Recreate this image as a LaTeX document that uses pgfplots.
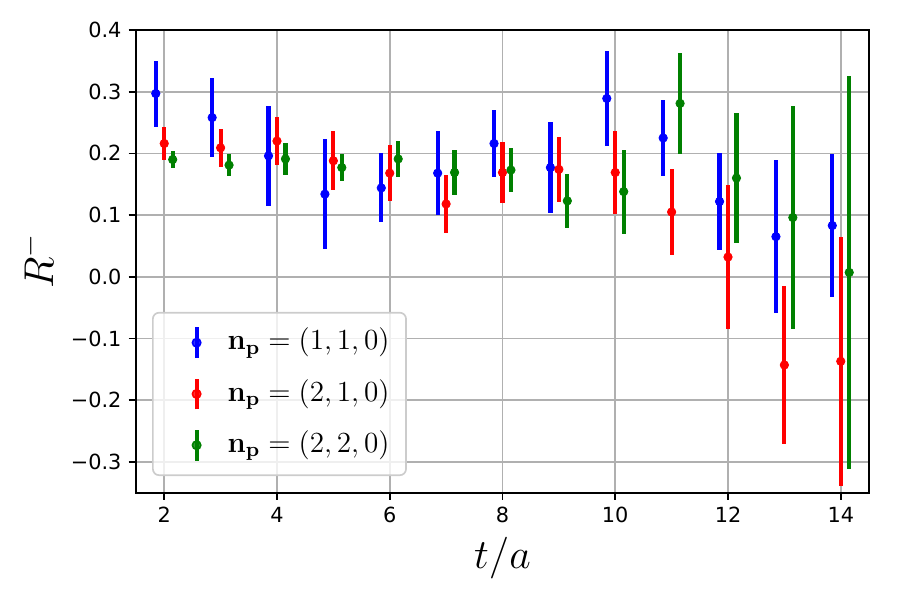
\RequirePackage{fix-cm}
\documentclass[border=0pt]{standalone}
\usepackage[no-math]{fontspec}
\setmainfont{DejaVu Sans}
\usepackage{pgfplots}
\pgfplotsset{compat=1.18}
\usepackage{pgfplotstable}
\definecolor{mgreen}{RGB}{0,128,0}
\definecolor{gridgray}{RGB}{176,176,176}

\pgfplotstableread{
x y e
1.85 0.297 0.0535
2.85 0.258 0.0635
3.85 0.196 0.0805
4.85 0.134 0.0895
5.85 0.144 0.056
6.85 0.168 0.0675
7.85 0.216 0.054
8.85 0.177 0.074
9.85 0.289 0.0775
10.85 0.225 0.0615
11.85 0.122 0.078
12.85 0.065 0.124
13.85 0.083 0.1165
}\blue

\pgfplotstableread{
x y e
2 0.216 0.026
3 0.209 0.0305
4 0.220 0.0385
5 0.188 0.0475
6 0.168 0.045
7 0.118 0.047
8 0.169 0.050
9 0.174 0.052
10 0.169 0.0675
11 0.105 0.069
12 0.032 0.117
13 -0.143 0.128
14 -0.137 0.202
}\red

\pgfplotstableread{
x y e
2.15 0.190 0.014
3.15 0.181 0.0175
4.15 0.191 0.026
5.15 0.177 0.022
6.15 0.191 0.029
7.15 0.169 0.037
8.15 0.173 0.0355
9.15 0.123 0.044
10.15 0.138 0.068
11.15 0.281 0.0815
12.15 0.160 0.105
13.15 0.096 0.181
14.15 0.007 0.319
}\green

\begin{document}
\begin{tikzpicture}
\begin{axis}[
  name=ax,
  scale only axis,
  width=351.8pt, height=222.1pt,
  xmin=1.5, xmax=14.5,
  ymin=-0.35, ymax=0.4,
  xtick={2,4,6,8,10,12,14},
  ytick={-0.3,-0.2,-0.1,0,0.1,0.2,0.3,0.4},
  yticklabels={−0.3,−0.2,−0.1,0.0,0.1,0.2,0.3,0.4},
  /pgf/number format/assume math mode=true,
  ticklabel style={font=\fontsize{10}{12}\selectfont},
  tick pos=left,
  tick align=outside,
  major tick length=3.5pt,
  tick style={black, line width=0.8pt},
  axis line style={line width=0.8pt},
  grid=major,
  major grid style={gridgray, line width=0.8pt},
  xlabel={$t/a$},
  ylabel={$R^-$},
  xlabel style={font=\fontsize{20}{24}\selectfont, at={(axis description cs:0.5,-0.142)}, anchor=center},
  ylabel style={font=\fontsize{20}{24}\selectfont, at={(axis description cs:-0.135,0.5)}, anchor=center},
  legend cell align=left,
  legend style={
    at={(0.0218,0.036)}, anchor=south west,
    draw=black!20, line width=0.8pt, fill=white, fill opacity=0.8, text opacity=1,
    rounded corners=3pt,
    font=\fontsize{14}{17}\selectfont,
    inner xsep=8pt, inner ysep=6pt,
    row sep=7.8pt, column sep=1.9pt,
    nodes={inner sep=0pt, text height=10.5pt, text depth=3.5pt},
  },
  legend image code/.code={
    \path[draw=none, fill=none] (0pt,0pt) -- (26pt,0pt);
    \draw[line width=2pt] (13pt,-7.4pt) -- (13pt,7.4pt);
    \fill (13pt,0pt) circle (2pt);
  },
]
\addplot[blue, only marks, mark=*, mark size=2pt,
  error bars/.cd, y dir=both, y explicit, error mark=none,
  error bar style={line width=2pt, blue}]
  table[x=x, y=y, y error=e] {\blue};
\addlegendentry{$\mathbf{n}_{\mathbf{p}} = (1,1,0)$}
\addplot[red, only marks, mark=*, mark size=2pt,
  error bars/.cd, y dir=both, y explicit, error mark=none,
  error bar style={line width=2pt, red}]
  table[x=x, y=y, y error=e] {\red};
\addlegendentry{$\mathbf{n}_{\mathbf{p}} = (2,1,0)$}
\addplot[mgreen, only marks, mark=*, mark size=2pt,
  error bars/.cd, y dir=both, y explicit, error mark=none,
  error bar style={line width=2pt, mgreen}]
  table[x=x, y=y, y error=e] {\green};
\addlegendentry{$\mathbf{n}_{\mathbf{p}} = (2,2,0)$}
\end{axis}
\pgfresetboundingbox
\path[use as bounding box] ([shift={(-65.3pt,-51.5pt)}]ax.south west) rectangle ([shift={(14.9pt,14.4pt)}]ax.north east);
\end{tikzpicture}
\end{document}
